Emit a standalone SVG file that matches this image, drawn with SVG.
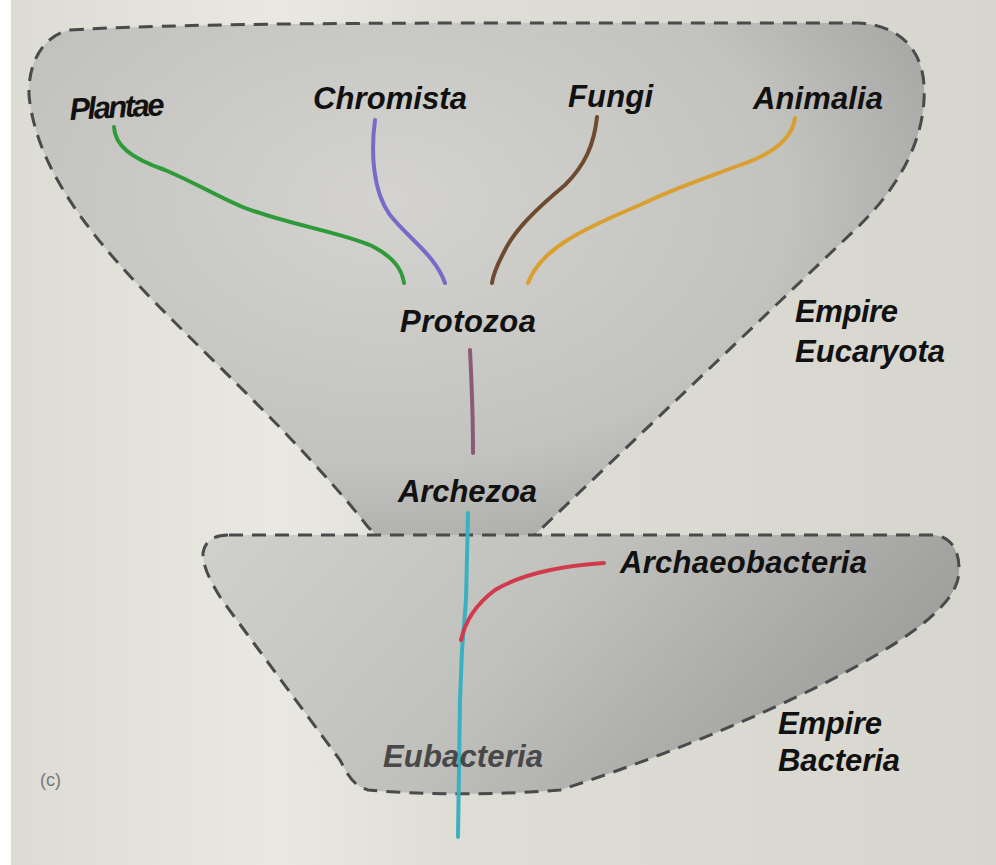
<svg xmlns="http://www.w3.org/2000/svg" width="996" height="865" viewBox="0 0 996 865">
<defs>
<linearGradient id="bg" x1="0" y1="0" x2="1" y2="0">
<stop offset="0" stop-color="#dcdbd3"/>
<stop offset="0.28" stop-color="#e9e8e2"/>
<stop offset="0.45" stop-color="#deddd6"/>
<stop offset="1" stop-color="#d6d5ce"/>
</linearGradient>
<radialGradient id="gTop" cx="0.4" cy="0.3" r="0.75">
<stop offset="0" stop-color="#d4d3cf"/>
<stop offset="0.6" stop-color="#c2c2bf"/>
<stop offset="1" stop-color="#9a9a99"/>
</radialGradient>
<linearGradient id="gBot" x1="0" y1="0" x2="1" y2="0.3">
<stop offset="0" stop-color="#d0d0cc"/>
<stop offset="0.5" stop-color="#c0c0bd"/>
<stop offset="1" stop-color="#9e9e9d"/>
</linearGradient>
<style>
.region{stroke:#4a4a4a;stroke-width:3;stroke-dasharray:14 9;}
.lbl{font-family:"Liberation Sans",Arial,sans-serif;font-weight:bold;font-style:italic;font-size:31px;fill:#111;}
.br{fill:none;stroke-width:4;stroke-linecap:round;}
</style>
</defs>
<rect x="0" y="0" width="996" height="865" fill="url(#bg)"/>
<rect x="0" y="0" width="11" height="865" fill="#ffffff"/>

<g id="empire-eucaryota-region">
<path class="region" fill="url(#gTop)" d="M70,30 C150,25 300,23 500,23 L858,23 C900,25 922,50 924,85 C926,120 915,170 860,225 L540,530 L455,612 L368,527 C300,440 200,350 146,293 C80,225 35,160 29,95 C28,60 45,35 70,30 Z"/>
</g>

<g id="empire-bacteria-region">
<path class="region" fill="url(#gBot)" d="M229,535 L934,535 C952,537 960,552 959,572 C958,590 945,605 925,622 C860,675 700,745 560,790 C500,795 420,795 368,790 C352,785 348,775 340,760 L222,600 C208,578 203,565 203,553 C205,540 215,535 229,535 Z"/>
</g>

<g id="connectors">
<path class="br" stroke="#2e9a3a" d="M114,127 C115,145 130,158 165,170 C200,185 220,198 245,208 C290,225 340,232 372,246 C395,258 402,270 404,283"/>
<path class="br" stroke="#7a6ac8" d="M375,120 C371,150 372,190 390,215 C410,240 435,255 445,283"/>
<path class="br" stroke="#6e4a30" d="M597,117 C594,145 585,165 565,185 C535,210 515,230 505,250 C497,265 493,275 492,283"/>
<path class="br" stroke="#d9a030" d="M795,118 C792,140 770,155 740,165 C700,180 670,190 640,205 C580,230 540,250 528,283"/>
<path class="br" stroke="#8c5a78" d="M470,350 C472,390 473,420 473,453"/>
<path class="br" stroke="#3ab0c0" d="M468,513 L466,600 L462,650 L460,700 L458,837"/>
<path class="br" stroke="#d03a4a" d="M604,563 C560,566 520,575 495,590 C475,605 465,622 461,640"/>
</g>

<g id="plantae"><text class="lbl" x="70" y="120" transform="rotate(-3 70 120)" textLength="95">Plantae</text></g>
<g id="chromista"><text class="lbl" x="313" y="109" textLength="154">Chromista</text></g>
<g id="fungi"><text class="lbl" x="568" y="107" textLength="85">Fungi</text></g>
<g id="animalia"><text class="lbl" x="753" y="109" textLength="130">Animalia</text></g>
<g id="protozoa"><text class="lbl" x="400" y="332" textLength="136">Protozoa</text></g>
<g id="archezoa"><text class="lbl" x="398" y="502" textLength="139">Archezoa</text></g>
<g id="archaeobacteria"><text class="lbl" x="620" y="573" textLength="247">Archaeobacteria</text></g>
<g id="eubacteria"><text class="lbl" x="383" y="767" textLength="160" style="fill:#484848">Eubacteria</text></g>
<g id="empire-eucaryota"><text class="lbl" x="795" y="322" textLength="103">Empire</text><text class="lbl" x="795" y="362" textLength="150">Eucaryota</text></g>
<g id="empire-bacteria"><text class="lbl" x="778" y="734" textLength="104">Empire</text><text class="lbl" x="778" y="771" textLength="122">Bacteria</text></g>
<g id="panel-label"><text x="40" y="786" style="font-family:'Liberation Sans',Arial,sans-serif;font-size:18px;fill:#777">(c)</text></g>
</svg>
